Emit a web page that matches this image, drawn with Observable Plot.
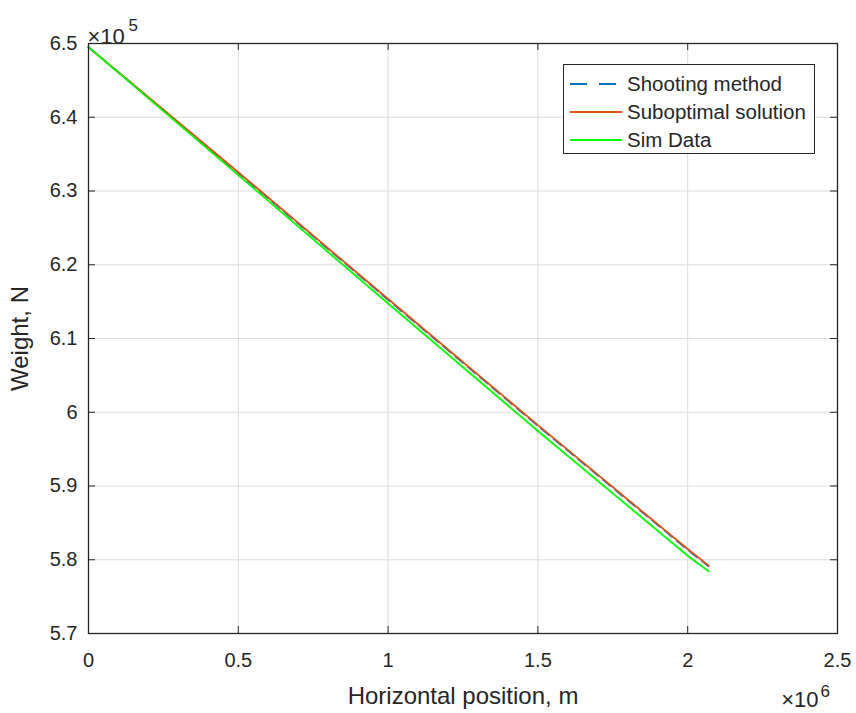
<!DOCTYPE html>
<html>
<head>
<meta charset="utf-8">
<script src="https://cdn.jsdelivr.net/npm/d3@7"></script>
<script src="https://cdn.jsdelivr.net/npm/@observablehq/plot@0.6"></script>
<style>
  html, body { margin: 0; padding: 0; background: #fff; }
  #wrap { position: relative; width: 856px; height: 713px; font-family: "Liberation Sans", Arial, sans-serif; }
  #legend { position: absolute; left: 563px; top: 64px; width: 250px; height: 88px; background: #fff; border: 1px solid #262626; box-sizing: content-box; }
  .row { position: absolute; left: 0; height: 28px; display: flex; align-items: center; font-size: 20.5px; color: #262626; white-space: nowrap; }
  .row svg { margin-left: 6px; margin-right: 5px; }
</style>
</head>
<body>
<div id="wrap"></div>
<script>
// Data
const xPos = [0, 0.5e6, 1.0e6, 1.5e6, 2.0e6, 2.07e6];
const shootingMethod = [6.495e5, 6.3245e5, 6.1525e5, 5.9815e5, 5.8135e5, 5.791e5];
const suboptimalSolution = [6.495e5, 6.3255e5, 6.1535e5, 5.9825e5, 5.8145e5, 5.792e5];
const simData = [6.495e5, 6.3215e5, 6.1475e5, 5.9745e5, 5.8055e5, 5.7845e5];
const seriesNames = ["Shooting method", "Suboptimal solution", "Sim Data"];
const seriesColors = ["#0072BD", "#D95319", "#00FF00"];
const xTicks = [0, 0.5e6, 1e6, 1.5e6, 2e6, 2.5e6];
const yTicks = [5.7e5, 5.8e5, 5.9e5, 6.0e5, 6.1e5, 6.2e5, 6.3e5, 6.4e5, 6.5e5];

const rows = [];
[shootingMethod, suboptimalSolution, simData].forEach((arr, s) => {
  arr.forEach((v, i) => rows.push({series: seriesNames[s], x: xPos[i], y: v}));
});

const W = 856, H = 713, mL = 88, mR = 19, mT = 43, mB = 80;
const plotH = H - mT - mB, plotW = W - mL - mR;
const ink = "#262626";

const chart = Plot.plot({
  width: W, height: H,
  marginLeft: mL, marginRight: mR, marginTop: mT, marginBottom: mB,
  style: {fontFamily: "Liberation Sans, Arial, sans-serif", color: ink, background: "#fff"},
  x: {domain: [0, 2.5e6]},
  y: {domain: [5.7e5, 6.5e5]},
  marks: [
    Plot.gridX(xTicks, {stroke: "#dcdcdc", strokeOpacity: 1}),
    Plot.gridY(yTicks, {stroke: "#dcdcdc", strokeOpacity: 1}),
    Plot.line(rows.filter(d => d.series === seriesNames[0]), {x: "x", y: "y", stroke: seriesColors[0], strokeWidth: 1.8, strokeDasharray: "10,6"}),
    Plot.line(rows.filter(d => d.series === seriesNames[1]), {x: "x", y: "y", stroke: seriesColors[1], strokeWidth: 1.8}),
    Plot.line(rows.filter(d => d.series === seriesNames[2]), {x: "x", y: "y", stroke: seriesColors[2], strokeWidth: 1.8}),
    // inward ticks
    Plot.ruleX(xTicks, {stroke: ink, insetTop: plotH - 7}),
    Plot.ruleX(xTicks, {stroke: ink, insetBottom: plotH - 7}),
    Plot.ruleY(yTicks, {stroke: ink, insetRight: plotW - 7}),
    Plot.ruleY(yTicks, {stroke: ink, insetLeft: plotW - 7}),
    Plot.frame({stroke: ink, strokeWidth: 1.3}),
    Plot.axisX(xTicks, {tickSize: 0, tickPadding: 19, tickFormat: d => d3.format("~g")(d / 1e6), fill: ink,
      label: "Horizontal position, m", labelAnchor: "center", labelArrow: "none", labelOffset: 70}),
    Plot.axisY(yTicks, {tickSize: 0, tickPadding: 11, tickFormat: d => d3.format("~g")(d / 1e5), fill: ink,
      label: "Weight, N", labelAnchor: "center", labelArrow: "none", labelOffset: 78}),
    Plot.text(["×10"], {frameAnchor: "top-left", dx: -1, dy: -15, textAnchor: "start", fill: ink, fontSize: 22, className: "expo"}),
    Plot.text(["5"], {frameAnchor: "top-left", dx: 40, dy: -25, textAnchor: "start", fill: ink, fontSize: 17, className: "sup"}),
    Plot.text(["×10"], {frameAnchor: "bottom-right", dx: -19, dy: 73, textAnchor: "end", fill: ink, fontSize: 22, className: "expo"}),
    Plot.text(["6"], {frameAnchor: "bottom-right", dx: -17, dy: 63, textAnchor: "start", fill: ink, fontSize: 17, className: "sup"})
  ]
});
chart.querySelectorAll("[aria-label='x-axis tick label'] text, [aria-label='y-axis tick label'] text").forEach(t => t.style.fontSize = "20px");
chart.querySelectorAll("[aria-label='x-axis label'] text, [aria-label='y-axis label'] text").forEach(t => t.style.fontSize = "24px");
chart.querySelectorAll(".expo text, text.expo").forEach(t => t.style.fontSize = "22px");
chart.querySelectorAll(".sup text, text.sup").forEach(t => t.style.fontSize = "17px");
const wrap = document.getElementById("wrap");
wrap.appendChild(chart);

// Legend
const legend = document.createElement("div");
legend.id = "legend";
seriesNames.forEach((name, i) => {
  const row = document.createElement("div");
  row.className = "row";
  row.style.top = (5 + i * 28) + "px";
  const dash = i === 0 ? "stroke-dasharray='17,12'" : "";
  row.innerHTML = `<svg width="52" height="4"><line x1="0" x2="52" y1="2" y2="2" stroke="${seriesColors[i]}" stroke-width="1.8" ${dash}/></svg><span>${name}</span>`;
  legend.appendChild(row);
});
wrap.appendChild(legend);
</script>
</body>
</html>
